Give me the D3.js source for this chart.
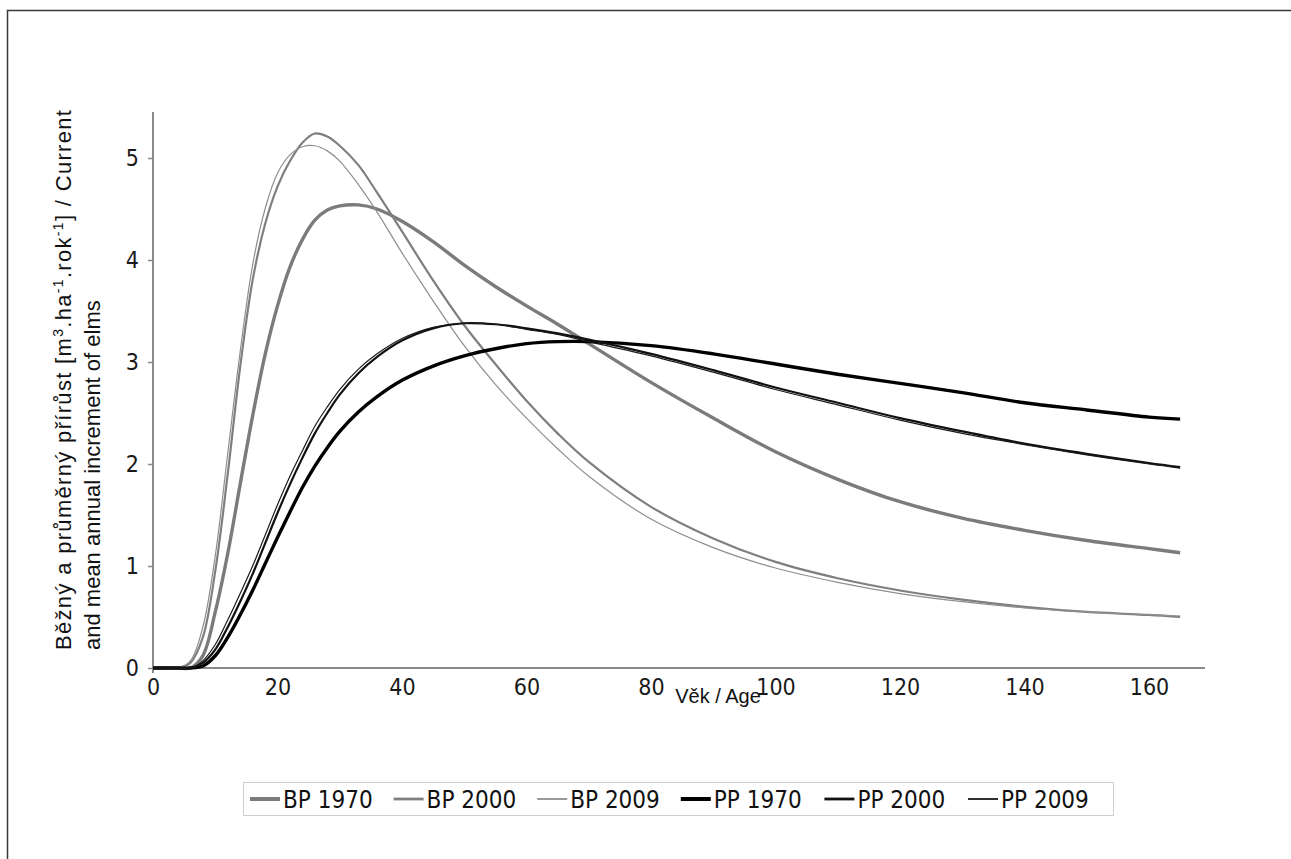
<!DOCTYPE html>
<html>
<head>
<meta charset="utf-8">
<script src="https://cdn.jsdelivr.net/npm/d3@7"></script>
<style>
  html, body { margin: 0; padding: 0; background: #fff; }
  svg { display: block; }
</style>
</head>
<body>
<svg id="chart" width="1291" height="859"></svg>
<script>
// Stand age (years) at which every series is tabulated
const ages = [0, 4, 6, 8, 10, 12, 14, 16, 18, 20, 22, 24, 26, 28, 30, 33, 36, 40, 45, 50,
              55, 60, 65, 70, 80, 90, 100, 110, 120, 130, 140, 150, 160, 165];

// Current annual increment (BP) and mean annual increment (PP), m3/ha/yr
const bp1970 = [0, 0, 0, 0.12, 0.55, 1.12, 1.8, 2.47, 3.07, 3.55, 3.93, 4.2, 4.39, 4.49, 4.53, 4.54, 4.5, 4.38, 4.18, 3.95,
                3.74, 3.55, 3.37, 3.18, 2.8, 2.45, 2.12, 1.85, 1.63, 1.47, 1.35, 1.25, 1.17, 1.13];
const bp2000 = [0, 0, 0.05, 0.3, 0.95, 1.9, 2.95, 3.8, 4.35, 4.72, 4.97, 5.15, 5.24, 5.21, 5.12, 4.93, 4.66, 4.28, 3.8, 3.36,
                2.98, 2.62, 2.3, 2.02, 1.58, 1.27, 1.04, 0.88, 0.76, 0.67, 0.6, 0.55, 0.52, 0.5];
const bp2009 = [0, 0, 0.07, 0.4, 1.1, 2.1, 3.1, 3.95, 4.5, 4.85, 5.03, 5.11, 5.12, 5.07, 4.97, 4.74, 4.47, 4.07, 3.6, 3.16,
                2.78, 2.45, 2.15, 1.88, 1.46, 1.18, 0.98, 0.84, 0.73, 0.65, 0.59, 0.55, 0.52, 0.51];
const pp1970 = [0, 0, 0, 0.02, 0.12, 0.3, 0.52, 0.76, 1.02, 1.28, 1.53, 1.77, 1.98, 2.16, 2.32, 2.51, 2.66, 2.82, 2.96, 3.06,
                3.13, 3.18, 3.2, 3.2, 3.16, 3.08, 2.98, 2.88, 2.79, 2.7, 2.6, 2.53, 2.46, 2.44];
const pp2000 = [0, 0, 0, 0.05, 0.18, 0.4, 0.65, 0.92, 1.22, 1.52, 1.8, 2.06, 2.3, 2.5, 2.68, 2.89, 3.05, 3.21, 3.33, 3.38,
                3.37, 3.33, 3.28, 3.22, 3.08, 2.92, 2.75, 2.6, 2.45, 2.32, 2.2, 2.1, 2.01, 1.97];
const pp2009 = [0, 0, 0, 0.07, 0.23, 0.47, 0.73, 1.0, 1.3, 1.6, 1.88, 2.13, 2.37, 2.56, 2.73, 2.93, 3.08, 3.23, 3.34, 3.38,
                3.37, 3.32, 3.27, 3.2, 3.06, 2.9, 2.73, 2.58, 2.43, 2.3, 2.19, 2.09, 2.0, 1.96];

const seriesNames = ["BP 1970", "BP 2000", "BP 2009", "PP 1970", "PP 2000", "PP 2009"];
const seriesValues = [bp1970, bp2000, bp2009, pp1970, pp2000, pp2009];

const xTicks = [0, 20, 40, 60, 80, 100, 120, 140, 160];
const yTicks = [0, 1, 2, 3, 4, 5];

// Line styles per series
const strokeColors = ["#7b7b7b", "#7f7f7f", "#8e8e8e", "#000000", "#111111", "#1a1a1a"];
const strokeWidths = [3.4, 2.2, 1.2, 3.4, 2.2, 1.2];

const svg = d3.select("#chart");

// Outer frame
svg.append("rect")
  .attr("x", 7.5).attr("y", 10.5)
  .attr("width", 1300).attr("height", 900)
  .attr("fill", "none").attr("stroke", "#3a3a3a").attr("stroke-width", 1.5);

const x = d3.scaleLinear().domain([0, 160]).range([153, 1149]);
const y = d3.scaleLinear().domain([0, 5]).range([668, 158]);
const xMax = 169;
const yMax = 5.45;

const tickFont = "'DejaVu Sans Condensed', 'DejaVu Sans', sans-serif";
const titleFont = "'Liberation Sans', Arial, sans-serif";

// Y axis
const yAxis = svg.append("g")
  .attr("transform", `translate(${x(0)},0)`)
  .call(d3.axisLeft(y).tickValues(yTicks).tickSize(5).tickPadding(9).tickFormat(d3.format("d")));
yAxis.select(".domain").remove();
yAxis.selectAll(".tick line").attr("stroke", "#8a8a8a").attr("stroke-width", 1.5);
yAxis.selectAll(".tick text")
  .attr("font-family", tickFont).attr("font-size", 23).attr("fill", "#1a1a1a");
svg.append("line")
  .attr("x1", x(0)).attr("x2", x(0))
  .attr("y1", y(yMax)).attr("y2", y(0) + 5)
  .attr("stroke", "#8a8a8a").attr("stroke-width", 2);

// X axis
const xAxis = svg.append("g")
  .attr("transform", `translate(0,${y(0)})`)
  .call(d3.axisBottom(x).tickValues(xTicks).tickSize(0).tickPadding(11).tickFormat(d3.format("d")));
xAxis.select(".domain").remove();
xAxis.selectAll(".tick text")
  .attr("font-family", tickFont).attr("font-size", 23).attr("fill", "#1a1a1a");
svg.append("line")
  .attr("x1", x(0)).attr("x2", x(xMax))
  .attr("y1", y(0)).attr("y2", y(0))
  .attr("stroke", "#8a8a8a").attr("stroke-width", 2);

// Axis titles
svg.append("text")
  .attr("x", 718).attr("y", 703)
  .attr("text-anchor", "middle")
  .attr("font-family", titleFont)
  .attr("font-size", 20).attr("fill", "#111")
  .text("Věk / Age");

const yTitle = svg.append("text")
  .attr("transform", "translate(71,650) rotate(-90)")
  .attr("font-family", titleFont)
  .attr("font-size", 22).attr("fill", "#111")
  .attr("textLength", 540).attr("lengthAdjust", "spacing");
yTitle.append("tspan").text("Běžný a průměrný přírůst [m");
yTitle.append("tspan").attr("font-size", 14).attr("dy", -8).text("3");
yTitle.append("tspan").attr("dy", 8).text(".ha");
yTitle.append("tspan").attr("font-size", 14).attr("dy", -8).text("-1");
yTitle.append("tspan").attr("dy", 8).text(".rok");
yTitle.append("tspan").attr("font-size", 14).attr("dy", -8).text("-1");
yTitle.append("tspan").attr("dy", 8).text("] / Current");
svg.append("text")
  .attr("transform", "translate(100,650) rotate(-90)")
  .attr("font-family", titleFont)
  .attr("font-size", 22).attr("fill", "#111")
  .text("and mean annual increment of elms");

// Curves
const line = d3.line()
  .x((d, i) => x(ages[i]))
  .y(d => y(d))
  .curve(d3.curveCatmullRom.alpha(0.5));

svg.append("g")
  .selectAll("path")
  .data(seriesValues)
  .join("path")
  .attr("d", d => line(d))
  .attr("fill", "none")
  .attr("stroke", (d, i) => strokeColors[i])
  .attr("stroke-width", (d, i) => strokeWidths[i])
  .attr("stroke-linejoin", "round");

// Legend
const legend = svg.append("g");
legend.append("rect")
  .attr("x", 243.5).attr("y", 782.5).attr("width", 870).attr("height", 33)
  .attr("fill", "#fff").attr("stroke", "#cfcfcf").attr("stroke-width", 1);
const items = legend.selectAll("g.item")
  .data(seriesNames)
  .join("g")
  .attr("class", "item")
  .attr("transform", (d, i) => `translate(${250 + i * 143.6},799)`);
items.append("line")
  .attr("x1", 0).attr("x2", 30).attr("y1", 0).attr("y2", 0)
  .attr("stroke", (d, i) => strokeColors[i])
  .attr("stroke-width", (d, i) => strokeWidths[i] + 0.6);
items.append("text")
  .attr("x", 33).attr("y", 0).attr("dy", "0.36em")
  .attr("font-family", tickFont).attr("font-size", 24).attr("fill", "#111")
  .text(d => d);
</script>
</body>
</html>
